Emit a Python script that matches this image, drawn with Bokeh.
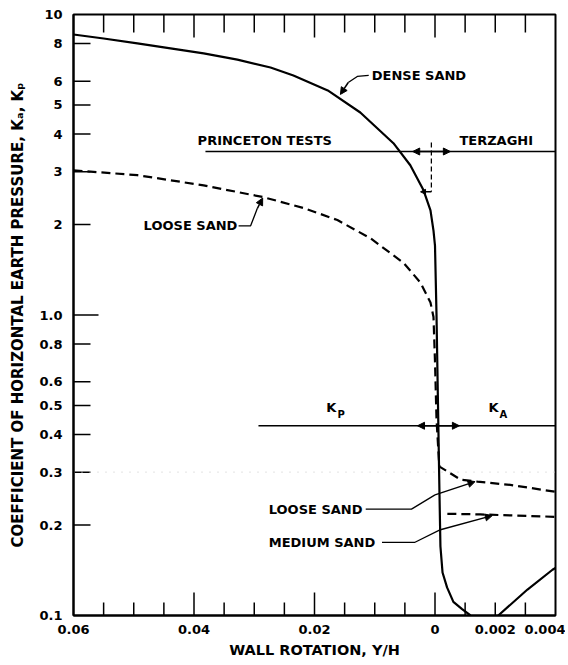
import numpy as np
from bokeh.plotting import figure
from bokeh.models import (Range1d, FixedTicker, CustomJSTickFormatter,
                          Arrow, NormalHead)
from bokeh.core.properties import value
from bokeh.embed import file_html
from bokeh.resources import INLINE

nan = float("nan")
FONT = "DejaVu Sans"

# Wall rotation Y/H: negative = passive side (K_P, drawn left), positive = active side (K_A, right)
dense_rot = [-0.06, -0.055, -0.0494, -0.0439, -0.0384, -0.0328, -0.0273, -0.0235, -0.0178,
             -0.0124, -0.0069, -0.0041, -0.0019, -0.00075, -0.00025, 0.0, 0.00005, 0.0001,
             0.00015, 0.00018, 0.00025, 0.0004, 0.00061, 0.0009, 0.00118,
             nan, 0.0021, 0.00307, 0.0039, 0.004]
dense_k = [8.58, 8.32, 8.01, 7.71, 7.42, 7.08, 6.66, 6.27, 5.59,
           4.72, 3.73, 3.15, 2.60, 2.23, 1.91, 1.7, 1.0, 0.5,
           0.25, 0.17, 0.139, 0.124, 0.111, 0.105, 0.1,
           nan, 0.1, 0.122, 0.142, 0.144]

loose_rot = [-0.06, -0.0494, -0.0384, -0.0286, -0.0218, -0.0162, -0.0107, -0.0052, -0.0024,
             -0.00075, -0.00025, 0.0, 0.00005, 0.00013, 0.00015, 0.00045, 0.00085, 0.00141,
             0.0025, 0.004]
loose_k = [3.03, 2.92, 2.70, 2.47, 2.27, 2.07, 1.80, 1.49, 1.28,
           1.10, 0.985, 0.7, 0.45, 0.33, 0.313, 0.30, 0.283, 0.279,
           0.272, 0.258]

medium_rot = [0.00041, 0.0015, 0.004]
medium_k = [0.218, 0.217, 0.213]

# reference lines
princeton_rot = [-0.0381, 0.004]
princeton_k = [3.5, 3.5]
kpka_rot = [-0.0293, 0.004]
kpka_k = [0.428, 0.428]
faint_rot = [-0.06, 0.004]
faint_k = [0.3, 0.3]

x_tick_rot = [-0.06, -0.04, -0.02, 0.0, 0.002, 0.004]
x_tick_labels = ["0.06", "0.04", "0.02", "0", "0.002", "0.004"]
long_tick_rot = [-0.04, -0.02, 0.0]
short_tick_rot = [-0.055, -0.05, -0.045, -0.035, -0.03, -0.025, -0.015, -0.01, -0.005,
                  0.001, 0.002, 0.003]
y_tick_values = [0.1, 0.2, 0.3, 0.4, 0.5, 0.6, 0.8, 1.0, 2, 3, 4, 5, 6, 8, 10]
y_tick_labels = ["0.1", "0.2", "0.3", "0.4", "0.5", "0.6", "0.8", "1.0",
                 "2", "3", "4", "5", "6", "8", "10"]
y_mark_values = [0.2, 0.3, 0.4, 0.5, 0.6, 0.8, 2, 3, 4, 5, 6, 8]
y_long_mark_values = [1.0]

label_text = ["DENSE SAND", "LOOSE SAND", "LOOSE SAND", "MEDIUM SAND",
              "PRINCETON TESTS", "TERZAGHI"]
label_rot = [-0.0105, -0.0328, -0.0276, -0.0276, -0.0394, 0.00081]
label_k = [6.27, 1.98, 0.226, 0.175, 3.82, 3.82]
label_align = ["left", "right", "left", "left", "left", "left"]

k_text = ["K", "K"]
k_rot = [-0.0172, 0.00194]
k_val = [0.494, 0.494]
k_sub_text = ["P", "A"]
k_sub_rot = [-0.0162, 0.00214]
k_sub_val = [0.466, 0.466]

dense_leader_rot = [-0.0110, -0.0129, -0.0144]
dense_leader_k = [6.27, 6.22, 5.94]
dense_tip = (-0.0157, 5.42)
loose1_leader_rot = [-0.0326, -0.0306, -0.0295]
loose1_leader_k = [1.98, 1.98, 2.26]
loose1_tip = (-0.0286, 2.45)
loose2_leader_rot = [-0.0115, -0.0039, 0.0]
loose2_leader_k = [0.226, 0.226, 0.252]
loose2_tip = (0.00133, 0.279)
medium_leader_rot = [-0.0088, -0.0034, 0.00018]
medium_leader_k = [0.175, 0.175, 0.193]
medium_tip = (0.0019, 0.215)

terz_arrow_rot = (-0.0037, 0.00051)
terz_mark_rot = -0.0006
terz_mark_k = (3.75, 2.57)
terz_small_tip = (-0.0024, 2.57)
kpka_arrow_rot = (-0.0029, 0.00081)

ACTIVE_SCALE = 5.0
X0, X1 = -0.06, 0.004 * ACTIVE_SCALE
Y0, Y1 = 0.1, 10.0
WIDTH, HEIGHT = 565, 660
BORDER_L, BORDER_R, BORDER_T, BORDER_B = 73, 10, 14, 44
PX_PER_DECADE = (HEIGHT - BORDER_T - BORDER_B) / np.log10(Y1 / Y0)


def xs(r):
    r = np.asarray(r, dtype=float)
    return np.where(r > 0, r * ACTIVE_SCALE, r)


def xv(r):
    return float(xs([r])[0])


p = figure(width=WIDTH, height=HEIGHT,
           x_range=Range1d(X0, X1), y_range=Range1d(Y0, Y1),
           y_axis_type="log", output_backend="svg", toolbar_location=None,
           min_border_left=BORDER_L, min_border_right=BORDER_R,
           min_border_top=BORDER_T, min_border_bottom=BORDER_B)
p.background_fill_color = "white"
p.border_fill_color = "white"
p.outline_line_color = "black"
p.outline_line_width = 2
p.xgrid.visible = False
p.ygrid.visible = False

fmt_code = """
for (let i = 0; i < tv.length; i++) {
  if (Math.abs(tv[i] - tick) < 1e-9) return tl[i];
}
return "";
"""

# bottom axis
xa = p.xaxis[0]
xa.ticker = FixedTicker(ticks=[float(v) for v in xs(x_tick_rot)], minor_ticks=[])
xa.formatter = CustomJSTickFormatter(args=dict(tv=[float(v) for v in xs(x_tick_rot)],
                                               tl=x_tick_labels), code=fmt_code)
xa.axis_label = "WALL ROTATION, Y/H"

# left axis
ya = p.yaxis[0]
ya.ticker = FixedTicker(ticks=y_tick_values, minor_ticks=[])
ya.formatter = CustomJSTickFormatter(args=dict(tv=[float(v) for v in y_tick_values],
                                               tl=y_tick_labels), code=fmt_code)
ya.axis_label = "COEFFICIENT OF HORIZONTAL EARTH PRESSURE, K\u2090, K\u209a"

for ax in (xa, ya):
    ax.axis_line_width = 2
    ax.axis_line_color = "black"
    ax.major_tick_in = 0
    ax.major_tick_out = 0
    ax.minor_tick_in = 0
    ax.minor_tick_out = 0
    ax.major_label_text_font = FONT
    ax.major_label_text_font_style = "bold"
    ax.major_label_text_font_size = "13px"
    ax.major_label_text_color = "black"
    ax.axis_label_text_font = FONT
    ax.axis_label_text_font_style = "bold"
    ax.axis_label_text_color = "black"

xa.axis_label_text_font_size = "14.5px"
ya.axis_label_text_font_size = "15px"
xa.major_label_standoff = 9
xa.axis_label_standoff = 5
ya.major_label_standoff = 11
ya.axis_label_standoff = 9


# inward tick marks along top and bottom, drawn as head-less Arrow annotations
def vticks(rots, edge, length_px, inward_up):
    f = 10 ** (length_px / PX_PER_DECADE)
    end = float(edge * f if inward_up else edge / f)
    for u in xs(rots):
        p.add_layout(Arrow(start=None, end=None, x_start=float(u), y_start=float(edge),
                           x_end=float(u), y_end=end, line_color="black", line_width=1.5))


vticks(long_tick_rot, Y0, 23, True)
vticks(short_tick_rot, Y0, 13, True)
vticks(long_tick_rot, Y1, 23, False)
vticks(short_tick_rot, Y1, 18, False)

# left edge ticks
tick_style = dict(line_color="black", line_width=1.5, length_units="screen")
p.ray(x=[X0] * len(y_mark_values), y=y_mark_values, length=17, angle=0, **tick_style)
p.ray(x=[X0] * len(y_long_mark_values), y=y_long_mark_values, length=25, angle=0, **tick_style)

# faint scan line
p.line(xs(faint_rot), faint_k, line_color="#d2d2d2", line_width=1.2, line_dash="1 7")

# curves
p.line(xs(dense_rot), dense_k, line_color="black", line_width=2.2)
p.line(xs(loose_rot), loose_k, line_color="black", line_width=2.2, line_dash="9 5")
p.line(xs(medium_rot), medium_k, line_color="black", line_width=2.2, line_dash="9 5")

# horizontal divider lines
p.line(xs(princeton_rot), princeton_k, line_color="black", line_width=1.5)
p.line(xs(kpka_rot), kpka_k, line_color="black", line_width=1.5)


def arrow(x0, y0, x1, y1, size=7, start=False):
    a = Arrow(end=NormalHead(size=size, fill_color="black", line_color="black", line_width=1),
              start=(NormalHead(size=size, fill_color="black", line_color="black", line_width=1)
                     if start else None),
              x_start=x0, y_start=y0, x_end=x1, y_end=y1,
              line_color="black", line_width=1.5)
    p.add_layout(a)


# leader lines
for lr, lk, tip in ((dense_leader_rot, dense_leader_k, dense_tip),
                    (loose1_leader_rot, loose1_leader_k, loose1_tip),
                    (loose2_leader_rot, loose2_leader_k, loose2_tip),
                    (medium_leader_rot, medium_leader_k, medium_tip)):
    p.line(xs(lr), lk, line_color="black", line_width=1.3)
    arrow(xv(lr[-1]), lk[-1], xv(tip[0]), tip[1], size=7)

# boundary arrows
arrow(xv(terz_arrow_rot[0]), princeton_k[0], xv(terz_arrow_rot[1]), princeton_k[0], size=7, start=True)
arrow(xv(kpka_arrow_rot[0]), kpka_k[0], xv(kpka_arrow_rot[1]), kpka_k[0], size=7, start=True)
p.line([xv(terz_mark_rot)] * 2, list(terz_mark_k), line_color="black", line_width=1.3,
       line_dash="5 3")
arrow(xv(terz_mark_rot), terz_mark_k[1], xv(terz_small_tip[0]), terz_small_tip[1], size=5)

# text labels
p.text(x=xs(label_rot), y=label_k, text=label_text, text_align=label_align,
       text_baseline="middle", text_font=value(FONT), text_font_style="bold",
       text_font_size="13px", text_color="black")
p.text(x=xs(k_rot), y=k_val, text=k_text, text_align="center", text_baseline="middle",
       text_font=value(FONT), text_font_style="bold", text_font_size="13px",
       text_color="black")
p.text(x=xs(k_sub_rot), y=k_sub_val, text=k_sub_text, text_align="left",
       text_baseline="middle", text_font=value(FONT), text_font_style="bold",
       text_font_size="10px", text_color="black")

open("out.html", "w").write(file_html(p, INLINE))
